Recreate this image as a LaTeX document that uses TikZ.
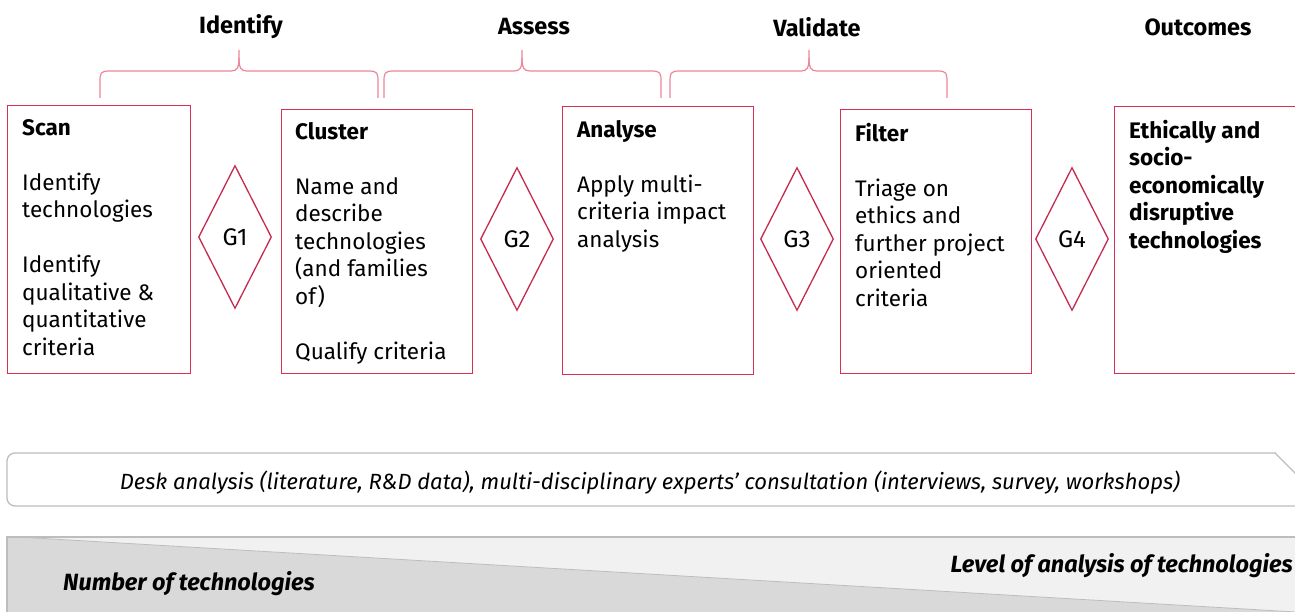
\documentclass[tikz,border=0pt]{standalone}
\usepackage{fontspec}
\setmainfont{Fira Sans}
\usetikzlibrary{shapes.geometric}
\definecolor{boxc}{HTML}{DC2D55}
\definecolor{bracec}{HTML}{EE8398}
\definecolor{diac}{HTML}{C42A4E}
\definecolor{bandlight}{HTML}{F1F1F1}
\definecolor{banddark}{HTML}{D9D9D9}
\definecolor{bandline}{HTML}{BDBDBD}
\begin{document}
\begin{tikzpicture}[x=1pt,y=-1pt,
  stagebox/.style={draw=boxc, line width=1.3pt, fill=white, anchor=north west, inner sep=0pt},
  gate/.style={diamond, draw=diac, line width=1.3pt, inner sep=0pt, minimum width=73pt, minimum height=143pt, font=\fontsize{24}{26}\selectfont},
  body/.style={anchor=north west, inner sep=0pt, align=left, font=\fontsize{22.5}{27.5}\selectfont},
  head/.style={inner sep=0pt, font=\fontsize{23.5}{26}\selectfont\bfseries},
  bracepath/.style={draw=bracec, line width=1.2pt},
]
\useasboundingbox (0,0) rectangle (1295,612);

% headers
\node[head] (hid) at (241,27) {Identify};
\node[head] (has) at (534,27) {Assess};
\node[head] (hva) at (817,27) {Validate};
\node[head] (hou) at (1198,27) {Outcomes};

% braces
\foreach \a/\m/\b in {100/239/378, 384/522/661, 670/809/947}{
  \draw[bracepath] (\a,98) -- (\a,83) .. controls (\a,73) and (\a,71) .. (\a+10,71)
    -- (\m-8,71) .. controls (\m-2,71) and (\m,68) .. (\m,58) -- (\m,50);
  \draw[bracepath] (\b,98) -- (\b,83) .. controls (\b,73) and (\b,71) .. (\b-10,71)
    -- (\m+8,71) .. controls (\m+2,71) and (\m,68) .. (\m,58);
}

% stage boxes
\node[stagebox, minimum width=183pt, minimum height=268pt] (scan) at (7,105) {};
\node[stagebox, minimum width=191pt, minimum height=264pt] (cluster) at (281,109) {};
\node[stagebox, minimum width=191pt, minimum height=268pt] (analyse) at (562,106) {};
\node[stagebox, minimum width=191pt, minimum height=264pt] (filter) at (840,109) {};
\node[stagebox, minimum width=200pt, minimum height=267pt] (outc) at (1114,106) {};

% texts
\node[body] (scant) at (22,119) {\textbf{Scan}\\[27.5pt]Identify\\technologies\\[27.5pt]Identify\\qualitative \&\\quantitative\\criteria};
\node[body] (clustert) at (295,122) {\textbf{Cluster}\\[27.5pt]Name and\\describe\\technologies\\(and families\\of)\\[27.5pt]Qualify criteria};
\node[body] (analyset) at (577,120) {\textbf{Analyse}\\[27.5pt]Apply multi-\\criteria impact\\analysis};
\node[body] (filtert) at (855,123) {\textbf{Filter}\\[27.5pt]Triage on\\ethics and\\further project\\oriented\\criteria};
\node[body, font=\fontsize{22.5}{27.5}\selectfont\bfseries] (outct) at (1129,120) {Ethically and\\socio-\\economically\\disruptive\\technologies};

% gates
\node[gate] (g1) at (235,237) {G1};
\node[gate] (g2) at (517,239) {G2};
\node[gate] (g3) at (797,239) {G3};
\node[gate] (g4) at (1072,239) {G4};

% desk analysis bar
\draw[draw=bandline, line width=1.3pt, fill=white, rounded corners=8pt]
  (1296,506) -- (7,506) -- (7,453) -- (1276,453);
\draw[draw=bandline, line width=1.3pt] (1275,453) -- (1296,474);
\node[inner sep=0pt, font=\fontsize{22}{24}\selectfont\itshape] (desk) at (650,483)
  {Desk analysis (literature, R\&D data), multi-disciplinary experts’ consultation (interviews, survey, workshops)};

% gray band
\fill[banddark] (7,537) rectangle (1296,613);
\fill[bandlight] (18,537) -- (1296,537) -- (1296,612) -- cycle;
\draw[draw=bandline, line width=0.8pt] (18,537) -- (1296,612);
\draw[draw=bandline, line width=1.3pt] (7,613) -- (7,537) -- (1296,537);
\node[inner sep=0pt, anchor=west, font=\fontsize{23.5}{26}\selectfont\bfseries\itshape] (numt) at (63,584) {Number of technologies};
\node[inner sep=0pt, anchor=east, font=\fontsize{23.5}{26}\selectfont\bfseries\itshape] (levt) at (1293,566) {Level of analysis of technologies};
\end{tikzpicture}
\end{document}
